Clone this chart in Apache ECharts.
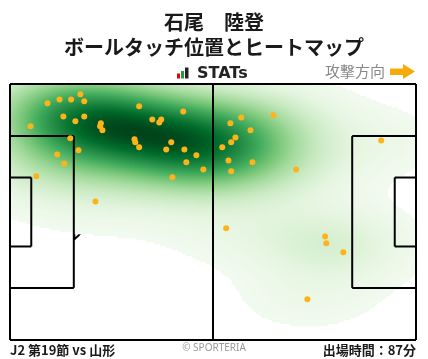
<!DOCTYPE html>
<html><head><meta charset="utf-8">
<script src="https://cdn.jsdelivr.net/npm/echarts@6/dist/echarts.min.js"></script>
<style>html,body{margin:0;padding:0;background:#fff}#c{width:428px;height:359px}</style>
</head><body><div id="c"></div>
<script>
// ---- texts ----
const playerName = '石尾　陸登';
const chartTitle = 'ボールタッチ位置とヒートマップ';
const matchLabel = 'J2 第19節 vs 山形';
const minutesLabel = '出場時間：87分';
const directionLabel = '攻撃方向';
const brandLabel = 'STATs';
const copyrightLabel = '© SPORTERIA';

// ---- ball touch positions (metres, x: own goal -> opponent goal, y: top -> bottom) ----
const touchX = [9.7, 12.8, 15.8, 18.2, 19.2, 13.8, 16.9, 19.2, 5.3, 23.5, 23.3, 23.9,
  33.4, 36.8, 39.1, 38.6, 44.8, 32.2, 32.4, 33.4, 41.7, 40.4, 45.1, 48.2, 45.6, 50.0,
  42.0, 15.6, 17.7, 12.2, 14.0, 6.8, 22.1,
  57.0, 59.8, 68.1, 62.2, 58.3, 57.2, 54.9, 56.5, 62.7, 57.2, 74.0, 96.0,
  55.9, 81.5, 81.8, 86.2, 76.9];
const touchY = [5.1, 4.1, 4.1, 2.7, 4.6, 8.6, 9.9, 8.6, 11.2, 10.4, 11.2, 12.3,
  5.9, 9.4, 9.4, 10.2, 7.3, 14.7, 15.5, 16.8, 15.5, 17.4, 17.4, 18.9, 20.8, 22.7,
  24.8, 14.4, 17.6, 18.7, 21.1, 24.5, 31.2,
  10.4, 8.9, 8.3, 12.3, 14.2, 15.5, 16.8, 20.3, 20.8, 23.2, 22.7, 15.0,
  38.3, 40.5, 42.3, 44.7, 57.2];

// ---- pitch geometry (metres) ----
const PL = 105, PW = 68;
const pitchSegments = [
  [0, 0, PL, 0], [0, PW, PL, PW], [0, 0, 0, PW], [PL, 0, PL, PW],
  [PL / 2, 0, PL / 2, PW],
  [0, 13.84, 16.5, 13.84], [0, 54.16, 16.5, 54.16], [16.5, 13.84, 16.5, 54.16],
  [0, 24.84, 5.5, 24.84], [0, 43.16, 5.5, 43.16], [5.5, 24.84, 5.5, 43.16],
  [PL, 13.84, PL - 16.5, 13.84], [PL, 54.16, PL - 16.5, 54.16], [PL - 16.5, 13.84, PL - 16.5, 54.16],
  [PL, 24.84, PL - 5.5, 24.84], [PL, 43.16, PL - 5.5, 43.16], [PL - 5.5, 24.84, PL - 5.5, 43.16]
];
const pitchArcs = [
  [11, 34, 9.15, 16.5, PL], [PL - 11, 34, 9.15, 0, PL - 16.5], [PL / 2, 34, 9.15, 0, PL]
];

// ---- kernel density (normal-reference bandwidth per axis) ----
const BW_ADJUST = 1.1;
const LOW_CUT = 0.035;   // lowest contour band left unfilled (fraction of peak density)
const NX = 203, NY = 128;
const CX = PL / NX, CY = PW / NY;
const n = touchX.length;
const mean = a => a.reduce((s, v) => s + v, 0) / a.length;
const std = a => { const m = mean(a); return Math.sqrt(a.reduce((s, v) => s + (v - m) * (v - m), 0) / a.length); };
const bwx = 1.06 * std(touchX) * Math.pow(n, -1 / 6) * BW_ADJUST;
const bwy = 1.06 * std(touchY) * Math.pow(n, -1 / 6) * BW_ADJUST;
function kde(x, y) {
  let s = 0;
  for (let k = 0; k < n; k++) {
    const dx = (x - touchX[k]) / bwx, dy = (y - touchY[k]) / bwy;
    s += Math.exp(-0.5 * (dx * dx + dy * dy));
  }
  return s;
}
const cells = [];
let dmax = 0;
for (let j = 0; j < NY; j++) {
  for (let i = 0; i < NX; i++) {
    const d = kde((i + 0.5) * CX, (j + 0.5) * CY);
    if (d > dmax) dmax = d;
    cells.push([i, j, d]);
  }
}
const level = dmax * LOW_CUT;
const heatData = cells.filter(c => c[2] >= level);

const chart = echarts.init(document.getElementById('c'), null, {renderer: 'canvas'});
const JP = '"Noto Sans CJK JP", "Noto Sans", sans-serif';
const idx = (len) => Array.from({length: len}, (_, i) => i);

chart.setOption({
  animation: false,
  backgroundColor: '#fff',
  title: [
    {text: playerName, left: 'center', top: 5, textStyle: {fontFamily: JP, fontSize: 20, fontWeight: 'bold', color: '#1a1a1a', lineHeight: 24}},
    {text: chartTitle, left: 'center', top: 30, textStyle: {fontFamily: JP, fontSize: 20, fontWeight: 'bold', color: '#1a1a1a', lineHeight: 24}}
  ],
  grid: [
    {left: 10, right: 12, top: 84, bottom: 19},
    {left: 10, right: 12, top: 84, bottom: 19}
  ],
  xAxis: [
    {type: 'value', min: 0, max: PL, show: false, gridIndex: 0},
    {type: 'category', data: idx(NX), show: false, gridIndex: 1, boundaryGap: true}
  ],
  yAxis: [
    {type: 'value', min: 0, max: PW, inverse: true, show: false, gridIndex: 0},
    {type: 'category', data: idx(NY), inverse: true, show: false, gridIndex: 1, boundaryGap: true}
  ],
  visualMap: {
    show: false, type: 'continuous', seriesIndex: 1, dimension: 2,
    min: 0, max: dmax,
    inRange: {color: ['#f7fcf5', '#e5f5e0', '#c7e9c0', '#a1d99b', '#74c476', '#41ab5d', '#238b45', '#006d2c', '#00441b']}
  },
  series: [
    {
      type: 'custom', coordinateSystem: 'cartesian2d', xAxisIndex: 0, yAxisIndex: 0, z: 1, silent: true,
      data: pitchArcs,
      renderItem: function (params, api) {
        const cx = api.value(0), cy = api.value(1), r = api.value(2), lo = api.value(3), hi = api.value(4);
        const pts = [];
        for (let a = 0; a <= 360; a += 2) {
          const t = a * Math.PI / 180;
          const x = cx + r * Math.cos(t), y = cy + r * Math.sin(t);
          if (x >= lo && x <= hi) pts.push(api.coord([x, y]));
        }
        return {type: 'polyline', shape: {points: pts}, style: {stroke: '#000', lineWidth: 2, fill: null}};
      }
    },
    {
      type: 'heatmap', xAxisIndex: 1, yAxisIndex: 1, z: 2, silent: true, progressive: 0,
      data: heatData, emphasis: {disabled: true}
    },
    {
      type: 'custom', coordinateSystem: 'cartesian2d', xAxisIndex: 0, yAxisIndex: 0, z: 3, silent: true,
      data: pitchSegments,
      renderItem: function (params, api) {
        const p1 = api.coord([api.value(0), api.value(1)]);
        const p2 = api.coord([api.value(2), api.value(3)]);
        return {type: 'line', shape: {x1: p1[0], y1: p1[1], x2: p2[0], y2: p2[1]}, style: {stroke: '#000', lineWidth: 2}};
      }
    },
    {
      type: 'scatter', xAxisIndex: 0, yAxisIndex: 0, z: 4, silent: true,
      symbolSize: 6, itemStyle: {color: '#ffb31a', opacity: 1},
      data: touchX.map((x, i) => [x, touchY[i]])
    }
  ],
  graphic: [
    {type: 'rect', shape: {x: 177, y: 73.5, width: 3, height: 5}, style: {fill: '#e60012'}},
    {type: 'rect', shape: {x: 181, y: 71, width: 3, height: 7.5}, style: {fill: '#1f9e3a'}},
    {type: 'rect', shape: {x: 185, y: 67.5, width: 3.5, height: 11}, style: {fill: '#222'}},
    {type: 'text', style: {x: 197, y: 73.5, text: brandLabel, fill: '#222', font: 'bold 16px "DejaVu Sans"', textAlign: 'left', textVerticalAlign: 'middle'}},
    {type: 'text', style: {x: 325, y: 71, text: directionLabel, fill: '#888', font: '15px ' + JP, textAlign: 'left', textVerticalAlign: 'middle'}},
    {type: 'polygon', shape: {points: [[390, 68.5], [403, 68.5], [403, 64], [415, 71.5], [403, 79], [403, 75], [390, 75]]}, style: {fill: '#f5ac0a'}},
    {type: 'text', style: {x: 10, y: 350, text: matchLabel, fill: '#1a1a1a', font: 'bold 13px ' + JP, textAlign: 'left', textVerticalAlign: 'middle'}},
    {type: 'text', style: {x: 214, y: 348.5, text: copyrightLabel, fill: '#999', font: '10px "Noto Sans", sans-serif', textAlign: 'center', textVerticalAlign: 'middle'}},
    {type: 'text', style: {x: 416, y: 350, text: minutesLabel, fill: '#1a1a1a', font: 'bold 13px ' + JP, textAlign: 'right', textVerticalAlign: 'middle'}}
  ]
});
</script>
</body></html>
